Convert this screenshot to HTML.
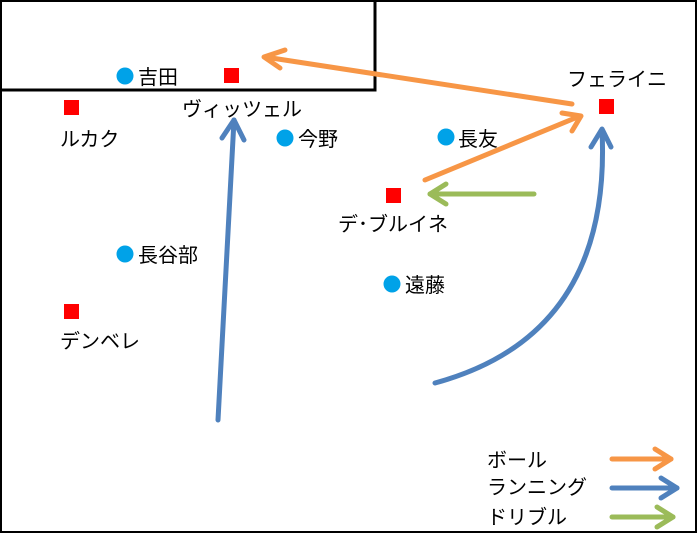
<!DOCTYPE html><html><head><meta charset="utf-8"><style>
body{margin:0;width:697px;height:533px;overflow:hidden;background:#fff}
svg text{font-family:"Liberation Sans","Noto Sans CJK JP",sans-serif;font-size:20px;fill:#000}
</style></head><body>
<svg width="697" height="533" viewBox="0 0 697 533">
<rect x="1" y="1" width="695" height="531" fill="#fff" stroke="#000" stroke-width="2"/>
<polyline points="0,90 375,90 375,0" fill="none" stroke="#000" stroke-width="3"/>
<g fill="#00a2e8">
<circle cx="125" cy="76" r="8.5"/><circle cx="285" cy="138" r="8.5"/><circle cx="446" cy="137" r="8.5"/>
<circle cx="125" cy="254" r="8.5"/><circle cx="392" cy="284" r="8.5"/></g>
<g fill="#f00">
<rect x="224" y="68" width="15" height="15"/><rect x="64" y="100" width="15" height="15"/>
<rect x="599" y="99" width="15" height="15"/><rect x="386" y="188" width="15" height="15"/>
<rect x="64" y="304" width="15" height="15"/></g>
<text x="138" y="84">吉田</text><text x="182" y="116">ヴィッツェル</text><text x="60" y="146">ルカク</text>
<text x="298" y="146">今野</text><text x="458" y="146">長友</text><text x="567" y="86">フェライニ</text>
<text x="338" y="231">デ･ブルイネ</text><text x="138" y="262">長谷部</text><text x="405" y="292">遠藤</text>
<text x="60" y="348">デンベレ</text>
<text x="487" y="467">ボール</text><text x="487" y="494">ランニング</text><text x="487" y="524">ドリブル</text>
<g fill="none" stroke-width="5" stroke-linecap="round" stroke-linejoin="round">
<g stroke="#f79646">
<line x1="572" y1="104" x2="265" y2="57"/><polyline points="285,50 264,57 280,68"/>
<line x1="425" y1="180" x2="580" y2="116"/><polyline points="562,113 581,116 572,131"/>
<line x1="612" y1="459" x2="671" y2="459"/><polyline points="655,449 671,459 655,469"/>
</g>
<g stroke="#4f81bd">
<line x1="218" y1="420" x2="234" y2="120"/><polyline points="222,138 234,120 244,140"/>
<path d="M435,383 Q612,335 602,130"/><polyline points="591,147 602,129 611,147"/>
<line x1="612" y1="488" x2="677" y2="488"/><polyline points="661,478 677,488 661,498"/>
</g>
<g stroke="#9bbb59">
<line x1="534" y1="194" x2="430" y2="194"/><polyline points="446,184 430,194 446,204"/>
<line x1="612" y1="517" x2="673" y2="517"/><polyline points="657,507 673,517 657,527"/>
</g></g>
</svg></body></html>
